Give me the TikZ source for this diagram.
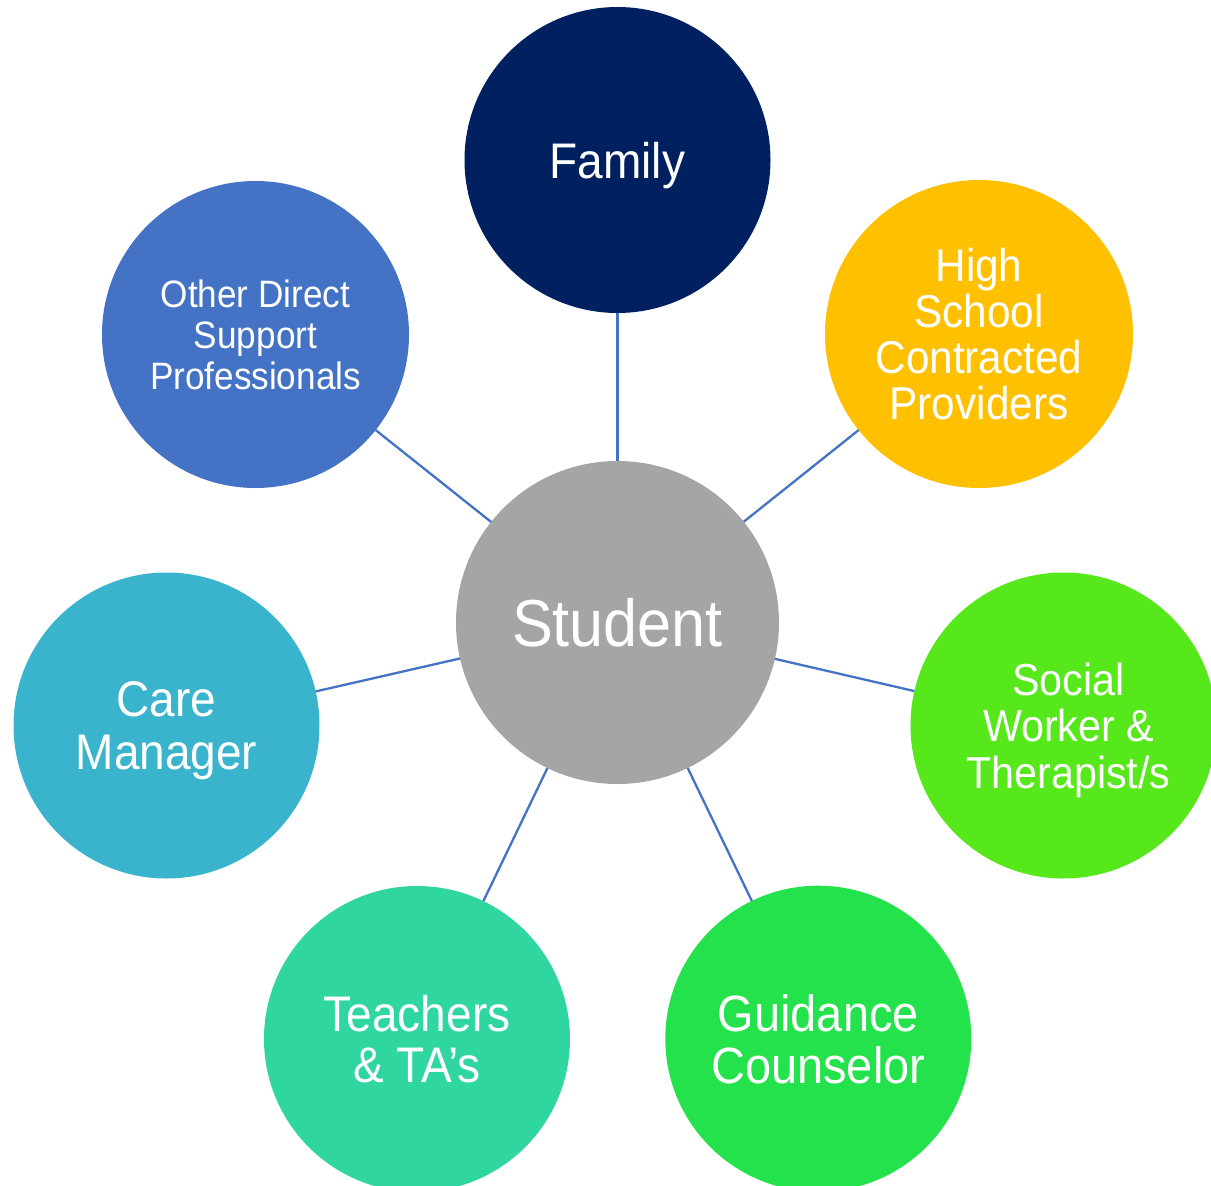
\documentclass[tikz,border=0pt]{standalone}
\usepackage{fontspec}
\setmainfont{Liberation Sans}[FakeStretch=0.92]
\definecolor{familyc}{HTML}{002060}
\definecolor{hsc}{HTML}{FFC000}
\definecolor{socialc}{RGB}{86,232,26}
\definecolor{guidc}{RGB}{36,226,76}
\definecolor{teachc}{RGB}{48,214,160}
\definecolor{carec}{RGB}{58,180,204}
\definecolor{otherc}{HTML}{4472C4}
\definecolor{studc}{HTML}{A5A5A5}
\definecolor{linkc}{HTML}{4472C4}
% #1 font size, #2 baseline skip, #3 lines separated by \cr
\newcommand\blocktext[3]{%
  \raisebox{0pt}[\height][0pt]{\vbox{\fontsize{#1}{#2}\selectfont
    \baselineskip=#2\relax\lineskiplimit=-100pt\lineskip=0pt
    \halign{\hfil##\hfil\cr#3\crcr}}}}
\begin{document}
\begin{tikzpicture}[x=1pt,y=-1pt,
  bubble/.style={circle,inner sep=0pt,outer sep=0pt,text=white,
    minimum size=306pt},
  link/.style={draw=linkc,line width=2.3pt}]
\useasboundingbox (0,0) rectangle (1211,1186);
\node[bubble,fill=studc,minimum size=323pt] (student) at (617.5,622.5)
  {\blocktext{66.5pt}{66pt}{Student}};
\node[bubble,fill=familyc] (family) at (617.5,160)
  {\blocktext{50pt}{50pt}{Family}};
\node[bubble,fill=hsc,minimum size=308pt] (hs) at (979,334)
  {\blocktext{46pt}{46pt}{High\cr School\cr Contracted\cr Providers}};
\node[bubble,fill=socialc] (social) at (1063.5,725.5)
  {\hspace*{10pt}\blocktext{44.8pt}{46.7pt}{Social\cr Worker \&\cr Therapist/s}};
\node[bubble,fill=guidc] (guidance) at (818.3,1038.7)
  {\blocktext{51pt}{51.7pt}{Guidance\cr Counselor}};
\node[bubble,fill=teachc] (teachers) at (417,1039)
  {\blocktext{50pt}{51.7pt}{Teachers\cr \& TA’s}};
\node[bubble,fill=carec] (care) at (166.5,725.5)
  {\blocktext{50pt}{53.3pt}{Care\cr Manager}};
\node[bubble,fill=otherc,minimum size=307pt] (other) at (255.5,334.5)
  {\blocktext{38.2pt}{40.8pt}{Other Direct\cr Support\cr Professionals}};
\foreach \n in {family,hs,social,guidance,teachers,care,other}
  \draw[link] (student) -- (\n);
\end{tikzpicture}
\end{document}
